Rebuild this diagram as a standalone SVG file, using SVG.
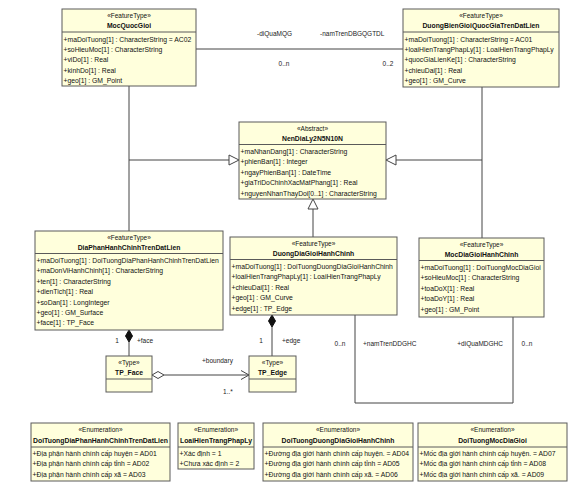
<svg xmlns="http://www.w3.org/2000/svg" width="575" height="492" viewBox="0 0 575 492">
<style>
.bg{fill:#ffffff}
.box{fill:#FFFFDC;stroke:#5a5a5a;stroke-width:1}
.dv{stroke:#5a5a5a;stroke-width:1}
.t{font-family:"Liberation Sans",Arial,sans-serif;font-size:6.8px;fill:#111}
.st{font-size:6.5px;text-anchor:middle}
.nm{font-weight:bold;text-anchor:middle}
.lb{font-family:"Liberation Sans",Arial,sans-serif;font-size:6.5px;fill:#222}
.mid{text-anchor:middle}
.end{text-anchor:end}
.ln{stroke:#444;stroke-width:1;fill:none}
.tri{fill:#fff;stroke:#444;stroke-width:1}
.fd{fill:#111;stroke:#111;stroke-width:1}
.hd{fill:#fff;stroke:#444;stroke-width:1}
</style>
<rect class="bg" x="0" y="0" width="575" height="492"/>

<g id="connectors">
  <line class="ln" x1="196" y1="49" x2="403" y2="49"/>
  <polyline class="ln" points="129,86 129,231"/>
  <polyline class="ln" points="129,160 229,160"/>
  <polygon class="tri" points="239,160 229,155 229,165"/>
  <polyline class="ln" points="482,87 482,238"/>
  <polyline class="ln" points="482,160 396,160"/>
  <polygon class="tri" points="386,160 396,155 396,165"/>
  <line class="ln" x1="313" y1="237" x2="313" y2="209"/>
  <polygon class="tri" points="313,199 308,209 318,209"/>
  <line class="ln" x1="129" y1="342" x2="129" y2="356"/>
  <polygon class="fd" points="129,330 132.5,336 129,342 125.5,336"/>
  <line class="ln" x1="272" y1="327" x2="272" y2="356"/>
  <polygon class="fd" points="272,315 275.5,321 272,327 268.5,321"/>
  <line class="ln" x1="164" y1="375" x2="249" y2="375"/>
  <polygon class="hd" points="152,375 158,371.5 164,375 158,378.5"/>
  <polyline class="ln" points="241,370.5 249,375 241,379.5"/>
  <polyline class="ln" points="355,315 355,403 513,403 513,317"/>
  <text class="lb" x="257" y="35.5">-diQuaMQG</text>
  <text class="lb" x="320" y="35.5">-namTrenDBGQGTDL</text>
  <text class="lb mid" x="284" y="65.5">0..n</text>
  <text class="lb mid" x="388" y="65.5">0..2</text>
  <text class="lb mid" x="117" y="342.5">1</text>
  <text class="lb" x="137" y="342.5">+face</text>
  <text class="lb mid" x="261" y="342.5">1</text>
  <text class="lb" x="282" y="342.5">+edge</text>
  <text class="lb" x="202" y="362.5">+boundary</text>
  <text class="lb mid" x="228" y="393.5">1..*</text>
  <text class="lb mid" x="340" y="345.5">0..n</text>
  <text class="lb" x="363" y="345.5">+namTrenDDGHC</text>
  <text class="lb end" x="503" y="345.5">+diQuaMDGHC</text>
  <text class="lb mid" x="527" y="345.5">0..n</text>
</g>

<g id="MocQuocGioi">
  <rect class="box" x="62" y="9" width="134" height="77"/>
  <line class="dv" x1="62" y1="32" x2="196" y2="32"/>
  <text class="t st" x="129" y="17.5">«FeatureType»</text>
  <text class="t nm" x="129" y="28">MocQuocGioi</text>
  <text class="t" x="63.5" y="41.5">+maDoiTuong[1] : CharacterString = AC02</text>
  <text class="t" x="63.5" y="51.9">+soHieuMoc[1] : CharacterString</text>
  <text class="t" x="63.5" y="62.3">+viDo[1] : Real</text>
  <text class="t" x="63.5" y="72.7">+kinhDo[1] : Real</text>
  <text class="t" x="63.5" y="83.1">+geo[1] : GM_Point</text>
</g>

<g id="DuongBienGioiQuocGiaTrenDatLien">
  <rect class="box" x="403" y="9" width="156" height="78"/>
  <line class="dv" x1="403" y1="32" x2="559" y2="32"/>
  <text class="t st" x="481" y="17.5">«FeatureType»</text>
  <text class="t nm" x="481" y="28">DuongBienGioiQuocGiaTrenDatLien</text>
  <text class="t" x="404.5" y="41.5">+maDoiTuong[1] : CharacterString = AC01</text>
  <text class="t" x="404.5" y="51.9">+loaiHienTrangPhapLy[1] : LoaiHienTrangPhapLy</text>
  <text class="t" x="404.5" y="62.3">+quocGiaLienKe[1] : CharacterString</text>
  <text class="t" x="404.5" y="72.7">+chieuDai[1] : Real</text>
  <text class="t" x="404.5" y="83.1">+geo[1] : GM_Curve</text>
</g>

<g id="NenDiaLy2N5N10N">
  <rect class="box" x="239" y="122" width="147" height="77"/>
  <line class="dv" x1="239" y1="144.5" x2="386" y2="144.5"/>
  <text class="t st" x="312.5" y="130.5">«Abstract»</text>
  <text class="t nm" x="312.5" y="141">NenDiaLy2N5N10N</text>
  <text class="t" x="240.5" y="154">+maNhanDang[1] : CharacterString</text>
  <text class="t" x="240.5" y="164.4">+phienBan[1] : Integer</text>
  <text class="t" x="240.5" y="174.8">+ngayPhienBan[1] : DateTime</text>
  <text class="t" x="240.5" y="185.2">+giaTriDoChinhXacMatPhang[1] : Real</text>
  <text class="t" x="240.5" y="195.6">+nguyenNhanThayDoi[0..1] : CharacterString</text>
</g>

<g id="DiaPhanHanhChinhTrenDatLien">
  <rect class="box" x="35" y="231" width="188" height="99"/>
  <line class="dv" x1="35" y1="253.5" x2="223" y2="253.5"/>
  <text class="t st" x="129" y="239.5">«FeatureType»</text>
  <text class="t nm" x="129" y="250">DiaPhanHanhChinhTrenDatLien</text>
  <text class="t" x="36.5" y="263">+maDoiTuong[1] : DoiTuongDiaPhanHanhChinhTrenDatLien</text>
  <text class="t" x="36.5" y="273.4">+maDonViHanhChinh[1] : CharacterString</text>
  <text class="t" x="36.5" y="283.8">+ten[1] : CharacterString</text>
  <text class="t" x="36.5" y="294.2">+dienTich[1] : Real</text>
  <text class="t" x="36.5" y="304.6">+soDan[1] : LongInteger</text>
  <text class="t" x="36.5" y="315">+geo[1] : GM_Surface</text>
  <text class="t" x="36.5" y="325.4">+face[1] : TP_Face</text>
</g>

<g id="DuongDiaGioiHanhChinh">
  <rect class="box" x="230" y="237" width="167" height="78"/>
  <line class="dv" x1="230" y1="259.5" x2="397" y2="259.5"/>
  <text class="t st" x="313.5" y="245.5">«FeatureType»</text>
  <text class="t nm" x="313.5" y="256">DuongDiaGioiHanhChinh</text>
  <text class="t" x="231.5" y="269">+maDoiTuong[1] : DoiTuongDuongDiaGioiHanhChinh</text>
  <text class="t" x="231.5" y="279.4">+loaiHienTrangPhapLy[1] : LoaiHienTrangPhapLy</text>
  <text class="t" x="231.5" y="289.8">+chieuDai[1] : Real</text>
  <text class="t" x="231.5" y="300.2">+geo[1] : GM_Curve</text>
  <text class="t" x="231.5" y="310.6">+edge[1] : TP_Edge</text>
</g>

<g id="MocDiaGioiHanhChinh">
  <rect class="box" x="419" y="238" width="125" height="79"/>
  <line class="dv" x1="419" y1="260.5" x2="544" y2="260.5"/>
  <text class="t st" x="481.5" y="246.5">«FeatureType»</text>
  <text class="t nm" x="481.5" y="257">MocDiaGioiHanhChinh</text>
  <text class="t" x="420.5" y="270">+maDoiTuong[1] : DoiTuongMocDiaGioi</text>
  <text class="t" x="420.5" y="280.4">+soHieuMoc[1] : CharacterString</text>
  <text class="t" x="420.5" y="290.8">+toaDoX[1] : Real</text>
  <text class="t" x="420.5" y="301.2">+toaDoY[1] : Real</text>
  <text class="t" x="420.5" y="311.6">+geo[1] : GM_Point</text>
</g>

<g id="TP_Face">
  <rect class="box" x="106" y="356" width="46" height="36"/>
  <line class="dv" x1="106" y1="379" x2="152" y2="379"/>
  <text class="t st" x="129" y="365">«Type»</text>
  <text class="t nm" x="129" y="375">TP_Face</text>
</g>

<g id="TP_Edge">
  <rect class="box" x="249" y="356" width="47" height="36"/>
  <line class="dv" x1="249" y1="379" x2="296" y2="379"/>
  <text class="t st" x="272.5" y="365">«Type»</text>
  <text class="t nm" x="272.5" y="375">TP_Edge</text>
</g>

<g id="DoiTuongDiaPhanHanhChinhTrenDatLien">
  <rect class="box" x="31" y="423" width="139" height="58"/>
  <line class="dv" x1="31" y1="447" x2="170" y2="447"/>
  <text class="t st" x="100.5" y="431.5">«Enumeration»</text>
  <text class="t nm" x="100.5" y="442.5" textLength="135" lengthAdjust="spacingAndGlyphs">DoiTuongDiaPhanHanhChinhTrenDatLien</text>
  <text class="t" x="32.5" y="455.8">+Địa phận hành chính cấp huyện = AD01</text>
  <text class="t" x="32.5" y="466.2">+Địa phận hành chính cấp tỉnh = AD02</text>
  <text class="t" x="32.5" y="476.6">+Địa phận hành chính cấp xã = AD03</text>
</g>

<g id="LoaiHienTrangPhapLy">
  <rect class="box" x="178" y="423" width="76" height="46"/>
  <line class="dv" x1="178" y1="447" x2="254" y2="447"/>
  <text class="t st" x="216" y="431.5">«Enumeration»</text>
  <text class="t nm" x="216" y="442.5" textLength="72" lengthAdjust="spacingAndGlyphs">LoaiHienTrangPhapLy</text>
  <text class="t" x="179.5" y="455.8">+Xác định = 1</text>
  <text class="t" x="179.5" y="466.2">+Chưa xác định = 2</text>
</g>

<g id="DoiTuongDuongDiaGioiHanhChinh">
  <rect class="box" x="263" y="423" width="150" height="58"/>
  <line class="dv" x1="263" y1="447" x2="413" y2="447"/>
  <text class="t st" x="338" y="431.5">«Enumeration»</text>
  <text class="t nm" x="338" y="442.5">DoiTuongDuongDiaGioiHanhChinh</text>
  <text class="t" x="264.5" y="455.8">+Đường địa giới hành chính cấp huyện. = AD04</text>
  <text class="t" x="264.5" y="466.2">+Đường địa giới hành chính cấp tỉnh = AD05</text>
  <text class="t" x="264.5" y="476.6">+Đường địa giới hành chính cấp xã. = AD06</text>
</g>

<g id="DoiTuongMocDiaGioi">
  <rect class="box" x="418" y="423" width="149" height="58"/>
  <line class="dv" x1="418" y1="447" x2="567" y2="447"/>
  <text class="t st" x="492.5" y="431.5">«Enumeration»</text>
  <text class="t nm" x="492.5" y="442.5">DoiTuongMocDiaGioi</text>
  <text class="t" x="419.5" y="455.8">+Mốc địa giới hành chính cấp huyện. = AD07</text>
  <text class="t" x="419.5" y="466.2">+Mốc địa giới hành chính cấp tỉnh = AD08</text>
  <text class="t" x="419.5" y="476.6">+Mốc địa giới hành chính cấp xã. = AD09</text>
</g>
</svg>
